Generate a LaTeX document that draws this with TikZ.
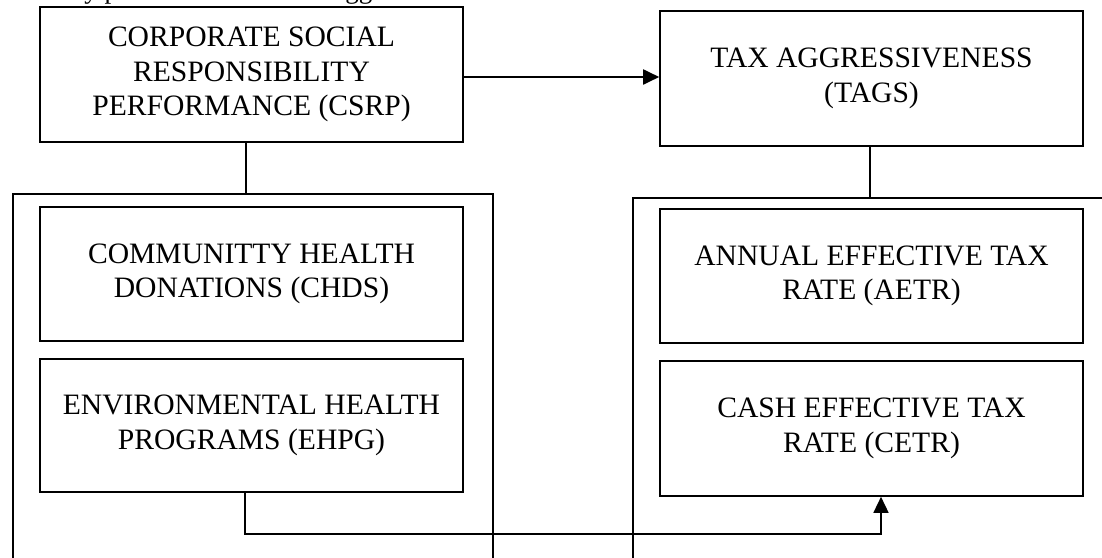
\documentclass[tikz,border=0pt]{standalone}
\usepackage{fontspec}
\setmainfont{Liberation Serif}
\usetikzlibrary{arrows.meta}
\tikzset{
  box/.style={draw=black, line width=1.6pt, rectangle, inner sep=0pt, align=center,
    font=\fontsize{29.6}{34.5}\selectfont},
  frame/.style={draw=black, line width=1.5pt, rectangle, inner sep=0pt},
  conn/.style={draw=black, line width=1.3pt},
  arr/.style={draw=black, line width=1.9pt, -{Triangle[length=16pt,width=15pt]}},
  arrthin/.style={draw=black, line width=1.5pt, -{Triangle[length=16pt,width=15pt]}}
}
\begin{document}
\begin{tikzpicture}[x=1pt,y=-1pt]
\useasboundingbox[fill=white] (0,0) rectangle (1102,557);
% clipped caption fragment at the top edge
\node[anchor=base east, inner sep=0pt, font=\fontsize{27}{32}\selectfont] (caption) at (494,-1.5)
  {social responsibility performance and tax aggressiveness};
% outer frames (extend past the page edges)
\node[frame, minimum width=480pt, minimum height=420pt, anchor=north west] (outerL) at (12,193) {};
\node[frame, minimum width=520pt, minimum height=420pt, anchor=north west] (outerR) at (632,197) {};
% main boxes
\node[box, minimum width=423pt, minimum height=135pt] (csrp) at (251.5,74.5)
  {CORPORATE SOCIAL\\RESPONSIBILITY\\PERFORMANCE (CSRP)};
\node[box, minimum width=423pt, minimum height=135pt] (tags) at (871.5,78.5)
  {TAX AGGRESSIVENESS\\(TAGS)};
\node[box, minimum width=423pt, minimum height=134pt] (chds) at (251.5,274)
  {COMMUNITTY HEALTH\\DONATIONS (CHDS)};
\node[box, minimum width=423pt, minimum height=133pt] (ehpg) at (251.5,425.5)
  {ENVIRONMENTAL HEALTH\\PROGRAMS (EHPG)};
\node[box, minimum width=423pt, minimum height=134pt] (aetr) at (871.5,276)
  {ANNUAL EFFECTIVE TAX\\RATE (AETR)};
\node[box, minimum width=423pt, minimum height=135pt] (cetr) at (871.5,428.5)
  {CASH EFFECTIVE TAX\\RATE (CETR)};
% connectors
\coordinate (toprow) at (0,77);
\coordinate (lowrow) at (0,534);
\draw[arr] (csrp.east |- toprow) -- (tags.west |- toprow);
\draw[conn] ([xshift=-5.5pt]csrp.south) -- ([xshift=-5.5pt]csrp.south |- outerL.north);
\draw[conn] ([xshift=-1.5pt]tags.south) -- ([xshift=-1.5pt]tags.south |- outerR.north);
\draw[arrthin] ([xshift=-6.5pt]ehpg.south) -- ([xshift=-6.5pt]ehpg.south |- lowrow)
  -- ([xshift=9.5pt]cetr.south |- lowrow) -- ([xshift=9.5pt]cetr.south);
\end{tikzpicture}
\end{document}
